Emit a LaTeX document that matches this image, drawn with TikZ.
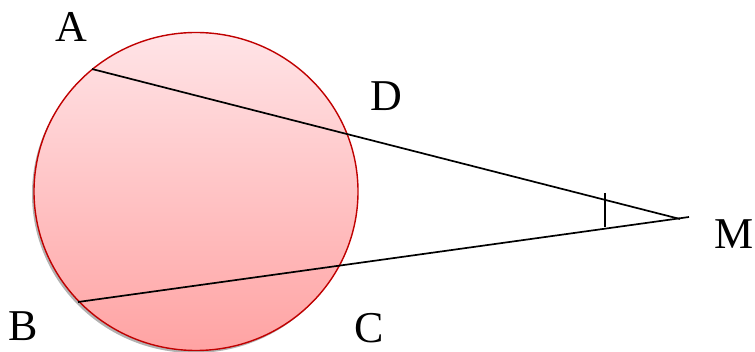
\documentclass[tikz,border=0pt]{standalone}
\usepackage{fontspec}
\setmainfont{Liberation Serif}
\begin{document}
\begin{tikzpicture}[x=1pt,y=-1pt,
  lbl/.style={font=\fontsize{44}{46}\selectfont, inner sep=0pt, anchor=base},
  seg/.style={line width=1.7pt, black}]
\useasboundingbox (0,0) rectangle (755,352);
% shadow
\fill[gray!60] (194,194) ellipse [x radius=162, y radius=159];
% circle with gradient
\shade[top color={rgb,255:red,255;green,228;blue,231}, bottom color={rgb,255:red,255;green,163;blue,163}]
  (196,191.5) ellipse [x radius=162, y radius=159];
\draw[line width=1.4pt, color={rgb,255:red,192;green,0;blue,0}]
  (196,191.5) ellipse [x radius=162, y radius=159];
\coordinate (A) at (92,69);
\coordinate (B) at (78,302);
\coordinate (M1) at (680,219);
\coordinate (M2) at (689,217);
\draw[seg] (A) -- (M1);
\draw[seg] (B) -- (M2);
\coordinate (t1) at (605,193);
\coordinate (t2) at (605,227);
\draw[line width=1.5pt] (t1) -- (t2);
\node[lbl] (lA) at (71,42) {A};
\node[lbl] (lD) at (386,111) {D};
\node[lbl] (lM) at (734,249) {M};
\node[lbl] (lB) at (23,341) {B};
\node[lbl] (lC) at (369,343) {C};
\end{tikzpicture}
\end{document}
